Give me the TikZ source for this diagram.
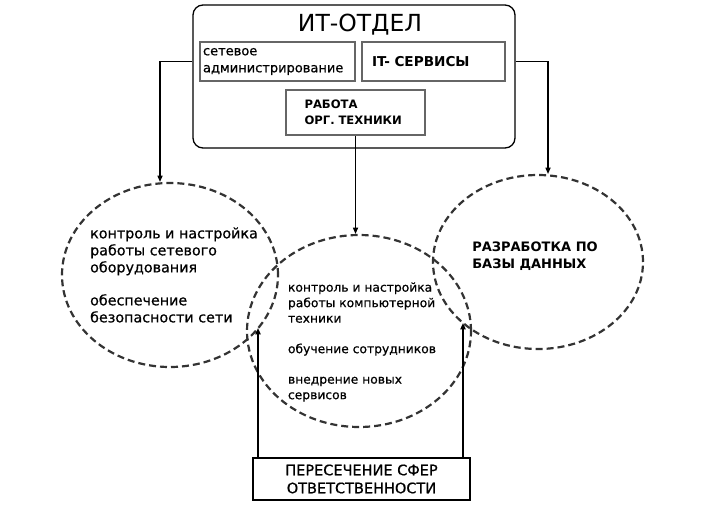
\documentclass[tikz,border=0pt]{standalone}
\usepackage{fontspec}
\setmainfont{DejaVu Sans}
\newfontfamily\heavyfont[FakeBold=0.6]{DejaVu Sans}
\usetikzlibrary{shapes.geometric, arrows.meta, positioning, calc}

\begin{document}
\begin{tikzpicture}[x=1pt, y=-1pt,
    every node/.style={font=\fontsize{11}{14}\selectfont},
    dept/.style={rectangle, draw, line width=1.3pt, rounded corners=10pt,
                 minimum width=322pt, minimum height=143pt},
    unit/.style={rectangle, draw=black!60, line width=2.5pt, inner sep=0pt,
                 align=left},
    zone/.style={ellipse, draw=black!80, dash pattern=on 7pt off 4pt,
                 line width=2.2pt},
    txt/.style={align=left, inner sep=0pt},
    arr/.style={-{Triangle[length=2.2mm, width=1.8mm]}, line width=1.2pt}
]
    \useasboundingbox (0,0) rectangle (727,511);

    % department box
    \node[dept] (dept) at (354,76.5) {};
    \node[font=\fontsize{23.5}{28}\selectfont] (title) at (360,25) {ИТ-ОТДЕЛ};
    \node[unit, minimum width=155pt, minimum height=39pt, text width=149pt,
          font=\fontsize{13}{17}\selectfont\heavyfont]
        (net) at (277.5,61.5) {сетевое\\администрирование};
    \node[unit, minimum width=143pt, minimum height=39pt, text width=123pt,
          font=\fontsize{13.6}{16}\selectfont\bfseries]
        (srv) at (433.5,61.5) {IT- СЕРВИСЫ};
    \node[unit, minimum width=139pt, minimum height=45pt, text width=102pt,
          font=\fontsize{11.6}{16}\selectfont\bfseries]
        (tech) at (355.5,112.5) {РАБОТА\\ОРГ. ТЕХНИКИ};

    % areas of work
    \node[zone, minimum width=216pt, minimum height=184pt] (lc) at (170,275) {};
    \node[zone, minimum width=224pt, minimum height=192pt] (mc) at (359,331) {};
    \node[zone, minimum width=210pt, minimum height=174pt] (rc) at (538,262) {};

    \node[txt, font=\fontsize{14.3}{17}\selectfont\heavyfont] (ltxt) at (174,275)
        {контроль и настройка\\работы сетевого\\оборудования\\[16pt]обеспечение\\безопасности сети};
    \node[txt, font=\fontsize{12.3}{15.5}\selectfont\heavyfont] (mtxt) at (362,342)
        {контроль и настройка\\работы компьютерной\\техники\\[15pt]обучение сотрудников\\[15pt]внедрение новых\\сервисов};
    \node[txt, font=\fontsize{13}{17}\selectfont\bfseries] (rtxt) at (535,256)
        {РАЗРАБОТКА ПО\\БАЗЫ ДАННЫХ};

    % shared responsibility
    \node[rectangle, draw, line width=2pt, minimum width=217pt, minimum height=42pt,
          align=center, font=\fontsize{14.5}{18}\selectfont\heavyfont] (cross) at (361.5,479)
        {ПЕРЕСЕЧЕНИЕ СФЕР\\ОТВЕТСТВЕННОСТИ};
    \coordinate (hitL) at (258,328);
    \coordinate (hitR) at (463,323);

    \draw[arr] (dept.west |- net) -| ([xshift=-10pt]lc.north);
    \draw[arr] (dept.east |- srv) -| ([xshift=10pt]rc.north);
    \draw[arr] (tech.south) -- (tech.south |- mc.north);
    \draw[arr, line width=1.8pt] (cross.north -| hitL) -- (hitL);
    \draw[arr, line width=1.8pt] (cross.north -| hitR) -- (hitR);
\end{tikzpicture}
\end{document}
